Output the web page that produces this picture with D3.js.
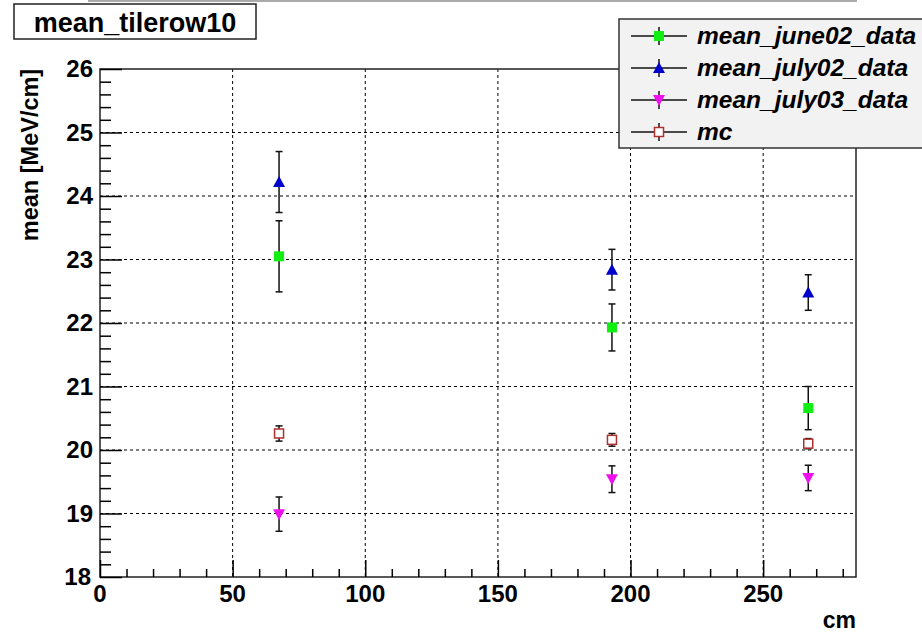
<!DOCTYPE html>
<html>
<head>
<meta charset="utf-8">
<script src="https://cdn.jsdelivr.net/npm/d3@7"></script>
<style>
body{margin:0;background:#fff;}
text{font-family:"Liberation Sans",Arial,sans-serif;font-weight:bold;}
</style>
</head>
<body>
<div id="chart"></div>
<script>
// data
var positions = [67.5, 193, 267]; // cm
var june02 = [23.05, 21.93, 20.66];
var june02Err = [0.56, 0.37, 0.34];
var july02 = [24.22, 22.84, 22.48];
var july02Err = [0.48, 0.32, 0.28];
var july03 = [18.99, 19.54, 19.56];
var july03Err = [0.27, 0.21, 0.20];
var mc = [20.26, 20.16, 20.10];
var mcErr = [0.12, 0.10, 0.08];
var xTicks = [0, 50, 100, 150, 200, 250];
var yTicks = [18, 19, 20, 21, 22, 23, 24, 25, 26];
var seriesNames = ["mean_june02_data", "mean_july02_data", "mean_july03_data", "mc"];

var width = 922,
    height = 634,
    padL = 100, padR = 856, padT = 69, padB = 577; // plot frame

var x = d3.scaleLinear().domain([0, 285]).range([padL, padR]);
var y = d3.scaleLinear().domain([18, 26]).range([padB, padT]);

var svg = d3.select("#chart").append("svg")
    .attr("width", width)
    .attr("height", height);

var layer1 = svg.append("g"); // grid
var layer2 = svg.append("g"); // frame, axes
var layer3 = svg.append("g"); // points
var layer4 = svg.append("g"); // title, legend

// faint line at the very top (cut off canvas edge)
layer1.append("line")
    .attr("x1", 88).attr("x2", 857).attr("y1", 1).attr("y2", 1)
    .attr("stroke", "#aaa").attr("stroke-width", 2);

// grid
layer1.selectAll(".vgrid")
    .data(xTicks.slice(1))
  .enter().append("line")
    .attr("x1", function(d){ return x(d); })
    .attr("x2", function(d){ return x(d); })
    .attr("y1", padT).attr("y2", padB)
    .attr("stroke", "#000").attr("stroke-width", 1)
    .attr("stroke-dasharray", "3,3");

layer1.selectAll(".hgrid")
    .data(yTicks.slice(1, -1))
  .enter().append("line")
    .attr("x1", padL).attr("x2", padR)
    .attr("y1", function(d){ return y(d); })
    .attr("y2", function(d){ return y(d); })
    .attr("stroke", "#000").attr("stroke-width", 1)
    .attr("stroke-dasharray", "3,3");

// frame
layer2.append("rect")
    .attr("x", padL).attr("y", padT)
    .attr("width", padR - padL).attr("height", padB - padT)
    .attr("fill", "none").attr("stroke", "#222").attr("stroke-width", 1.5);

// x axis (ticks point up into the plot)
var xAxis = d3.axisTop(x)
    .tickValues(d3.range(0, 286, 10))
    .tickSize(8)
    .tickFormat("");
layer2.append("g")
    .attr("transform", "translate(0," + padB + ")")
    .call(xAxis)
    .call(function(g){
        g.select(".domain").remove();
        g.selectAll(".tick line").attr("stroke", "#000").attr("stroke-width", 1.5)
            .attr("y2", function(d){ return d % 50 === 0 ? -17 : -8; });
    });

layer2.selectAll(".xlab")
    .data(xTicks)
  .enter().append("text")
    .attr("x", function(d){ return x(d); })
    .attr("y", 602)
    .attr("text-anchor", "middle")
    .attr("font-size", "24px")
    .attr("fill", "#000")
    .text(function(d){ return d; });

// y axis (ticks point right into the plot)
var yAxis = d3.axisRight(y)
    .tickValues(d3.range(18, 26.01, 0.2))
    .tickSize(11)
    .tickFormat("");
layer2.append("g")
    .attr("transform", "translate(" + padL + ",0)")
    .call(yAxis)
    .call(function(g){
        g.select(".domain").remove();
        g.selectAll(".tick line").attr("stroke", "#000").attr("stroke-width", 1.5)
            .attr("x2", function(d){ return Math.abs(d - Math.round(d)) < 0.01 ? 22 : 11; });
    });

layer2.selectAll(".ylab")
    .data(yTicks)
  .enter().append("text")
    .attr("x", function(d){ return d === 18 ? 91 : 93; })
    .attr("y", function(d){ return d === 18 ? y(d) + 8 : y(d) + 8; })
    .attr("text-anchor", "end")
    .attr("font-size", "24px")
    .attr("fill", "#000")
    .text(function(d){ return d; });

// axis titles
layer2.append("text")
    .attr("x", padR).attr("y", 628)
    .attr("text-anchor", "end")
    .attr("font-size", "23px")
    .text("cm");

layer2.append("text")
    .attr("transform", "translate(38,155) rotate(-90)")
    .attr("text-anchor", "middle")
    .attr("font-size", "23.5px")
    .text("mean [MeV/cm]");

// series
var series = [
    {name: seriesNames[0], vals: june02, errs: june02Err, shape: "square", color: "#11ee11"},
    {name: seriesNames[1], vals: july02, errs: july02Err, shape: "up", color: "#0000cc"},
    {name: seriesNames[2], vals: july03, errs: july03Err, shape: "down", color: "#ee11ee"},
    {name: seriesNames[3], vals: mc, errs: mcErr, shape: "open", color: "#b03030"}
];

function drawMarker(g, s, cx, cy){
    if(s.shape === "square"){
        g.append("rect").attr("x", cx - 5).attr("y", cy - 5)
            .attr("width", 10).attr("height", 10).attr("fill", s.color);
    } else if(s.shape === "up"){
        g.append("path").attr("d", "M" + cx + "," + (cy - 6) + "L" + (cx + 6) + "," + (cy + 5) + "L" + (cx - 6) + "," + (cy + 5) + "Z")
            .attr("fill", s.color);
    } else if(s.shape === "down"){
        g.append("path").attr("d", "M" + cx + "," + (cy + 6) + "L" + (cx + 6) + "," + (cy - 5) + "L" + (cx - 6) + "," + (cy - 5) + "Z")
            .attr("fill", s.color);
    } else {
        g.append("rect").attr("x", cx - 4.5).attr("y", cy - 4.5)
            .attr("width", 9).attr("height", 9)
            .attr("fill", "#fff").attr("stroke", s.color).attr("stroke-width", 1.5);
    }
}

series.forEach(function(s){
    var g = layer3.append("g");
    s.vals.forEach(function(v, i){
        var cx = x(positions[i]);
        var y1 = y(v + s.errs[i]), y2 = y(v - s.errs[i]);
        g.append("line").attr("x1", cx).attr("x2", cx).attr("y1", y1).attr("y2", y2)
            .attr("stroke", "#111").attr("stroke-width", 1.5);
        g.selectAll(null).data([y1, y2]).enter().append("line")
            .attr("x1", cx - 3.5).attr("x2", cx + 3.5)
            .attr("y1", function(d){ return d; }).attr("y2", function(d){ return d; })
            .attr("stroke", "#111").attr("stroke-width", 1.5);
        drawMarker(g, s, cx, y(v));
    });
});

// title box
layer4.append("rect")
    .attr("x", 14).attr("y", 4).attr("width", 242).attr("height", 35)
    .attr("fill", "#fff").attr("stroke", "#222").attr("stroke-width", 1.5);
layer4.append("text")
    .attr("x", 135).attr("y", 32)
    .attr("text-anchor", "middle")
    .attr("font-size", "27px")
    .text("mean_tilerow10");

// legend
var legend = layer4.append("g");
legend.append("rect")
    .attr("x", 619).attr("y", 19).attr("width", 320).attr("height", 129)
    .attr("fill", "#f2f2f2").attr("stroke", "#333").attr("stroke-width", 1.5);

var rows = legend.selectAll(".row")
    .data(series)
  .enter().append("g")
    .attr("transform", function(d, i){ return "translate(0," + (36 + i * 32) + ")"; });

rows.append("line")
    .attr("x1", 631).attr("x2", 687).attr("y1", 0).attr("y2", 0)
    .attr("stroke", "#111").attr("stroke-width", 1.5);
rows.append("line")
    .attr("x1", 659).attr("x2", 659).attr("y1", -9).attr("y2", 9)
    .attr("stroke", "#111").attr("stroke-width", 1.5);
rows.each(function(s){ drawMarker(d3.select(this), s, 659, 0); });
rows.append("text")
    .attr("x", 697).attr("y", 8)
    .attr("font-size", "24.5px")
    .attr("font-style", "italic")
    .text(function(d){ return d.name; });
</script>
</body>
</html>
